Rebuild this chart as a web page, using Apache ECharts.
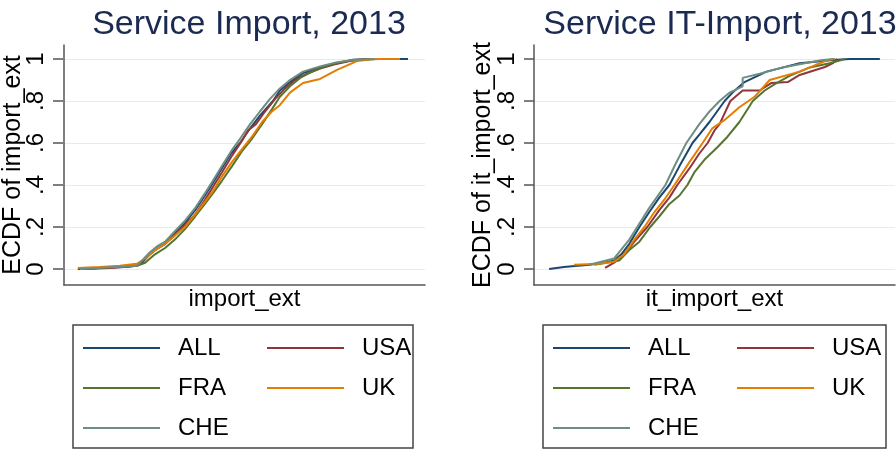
<!DOCTYPE html>
<html>
<head>
<meta charset="utf-8">
<script src="https://cdn.jsdelivr.net/npm/echarts@6/dist/echarts.min.js"></script>
<style>html,body{margin:0;padding:0;background:#fff}#c{width:896px;height:450px}</style>
</head>
<body>
<div id="c"></div>
<script>
const seriesNames = ['ALL', 'USA', 'FRA', 'UK', 'CHE'];
const yTickLabels = ['0', '.2', '.4', '.6', '.8', '1'];
const panelTitles = ['Service Import, 2013', 'Service IT-Import, 2013'];
const xNames = ['import_ext', 'it_import_ext'];
const yNames = ['ECDF of import_ext', 'ECDF of it_import_ext'];

// Service Import (left panel) : [x, ECDF]
const impALL = [[4.1,0],[10.2,0.005],[17.1,0.01],[20.4,0.015],[21.8,0.03],[24.0,0.07],[26.2,0.10],[28.2,0.12],[30.9,0.17],[33.7,0.22],[36.5,0.28],[39.2,0.35],[41.4,0.41],[43.9,0.48],[46.4,0.55],[48.9,0.60],[51.7,0.67],[54.4,0.73],[58.0,0.80],[59.9,0.85],[62.7,0.89],[66.3,0.933],[71.0,0.96],[75.7,0.98],[80.1,0.997],[87.6,1],[95.3,1]];
const impUSA = [[6.1,0],[13.0,0.005],[20.4,0.015],[22.7,0.05],[25.4,0.09],[28.2,0.12],[30.9,0.16],[33.7,0.21],[36.5,0.26],[39.2,0.33],[41.4,0.39],[43.9,0.46],[46.7,0.54],[49.4,0.61],[51.1,0.66],[53.3,0.69],[55.8,0.75],[58.6,0.81],[61.3,0.86],[64.1,0.90],[67.4,0.93],[71.0,0.955],[75.1,0.975],[79.3,0.99],[83.4,1.0]];
const impFRA = [[4.7,0],[20.4,0.015],[22.7,0.03],[25.4,0.07],[28.2,0.10],[30.9,0.14],[33.7,0.19],[36.5,0.25],[39.2,0.31],[41.4,0.36],[43.9,0.42],[46.7,0.49],[49.4,0.56],[52.2,0.62],[55.0,0.69],[57.7,0.76],[59.9,0.82],[62.7,0.87],[65.5,0.91],[68.8,0.94],[72.4,0.965],[76.5,0.985],[80.7,0.995],[84.8,1.0]];
const impUK = [[4.1,0.005],[10.2,0.01],[15.7,0.015],[20.4,0.025],[22.7,0.05],[25.4,0.09],[28.2,0.12],[30.9,0.16],[33.7,0.20],[36.5,0.26],[39.2,0.32],[41.4,0.37],[43.9,0.44],[46.7,0.51],[49.4,0.57],[52.2,0.63],[55.0,0.70],[57.7,0.75],[59.9,0.78],[62.7,0.84],[66.3,0.886],[71.0,0.905],[75.7,0.948],[81.2,0.99],[86.2,1.0],[93.1,1.0]];
const impCHE = [[4.7,0],[20.4,0.015],[21.8,0.04],[24.0,0.08],[26.2,0.11],[28.2,0.13],[30.9,0.18],[33.7,0.23],[36.5,0.29],[39.2,0.36],[41.4,0.42],[43.9,0.49],[46.4,0.56],[48.9,0.62],[51.7,0.69],[54.4,0.75],[57.2,0.81],[59.9,0.86],[62.7,0.90],[66.3,0.94],[71.0,0.965],[75.7,0.985],[80.7,0.997],[86.2,1.0]];

// Service IT-Import (right panel) : [x, ECDF]
const itALL = [[4.2,0],[8.3,0.01],[15.3,0.02],[19.4,0.03],[22.2,0.04],[24.2,0.07],[26.4,0.12],[29.2,0.2],[31.9,0.27],[34.7,0.34],[37.5,0.4],[40.3,0.49],[43.9,0.6],[45.8,0.64],[48.6,0.7],[52.8,0.8],[55.0,0.84],[58.3,0.89],[64.4,0.94],[73.6,0.98],[82.8,0.995],[87.5,1.0],[95.8,1.0]];
const itUSA = [[19.7,0.005],[22.2,0.03],[25.0,0.07],[27.8,0.13],[31.4,0.2],[34.7,0.28],[37.5,0.34],[39.7,0.4],[43.1,0.48],[45.8,0.55],[48.1,0.6],[50.0,0.66],[51.4,0.69],[54.4,0.8],[57.8,0.85],[62.5,0.85],[65.8,0.886],[70.3,0.89],[73.6,0.924],[80.6,0.962],[82.8,0.98],[83.9,1.0]];
const itFRA = [[16.7,0.02],[23.6,0.04],[26.4,0.09],[29.2,0.13],[32.2,0.2],[34.7,0.25],[37.5,0.31],[40.3,0.35],[42.5,0.4],[44.4,0.46],[47.2,0.52],[50.8,0.58],[53.6,0.63],[56.9,0.70],[60.6,0.8],[63.9,0.85],[66.7,0.88],[70.8,0.92],[76.4,0.96],[81.9,0.98],[86.1,1.0]];
const itUK = [[11.1,0.02],[18.1,0.025],[22.2,0.035],[25.0,0.07],[27.8,0.14],[30.6,0.2],[33.3,0.27],[36.1,0.33],[38.9,0.4],[43.1,0.51],[46.7,0.6],[49.4,0.67],[52.8,0.71],[56.9,0.77],[61.1,0.82],[65.3,0.9],[73.6,0.94],[77.8,0.97],[81.4,0.995],[83.3,1.0]];
const itCHE = [[15.3,0.02],[22.2,0.05],[23.6,0.08],[26.4,0.14],[28.6,0.2],[31.9,0.29],[36.4,0.4],[39.2,0.5],[42.2,0.6],[45.8,0.69],[48.6,0.75],[51.4,0.8],[54.2,0.84],[57.8,0.87],[57.8,0.91],[62.5,0.93],[68.9,0.96],[75.0,0.98],[80.0,0.995],[83.3,1.0]];

const panelData = [[impALL, impUSA, impFRA, impUK, impCHE], [itALL, itUSA, itFRA, itUK, itCHE]];
const colors = ['#1a476f', '#90353b', '#55752f', '#e37e00', '#6e8e84'];

const FONT = 'Liberation Sans, Arial, sans-serif';
const axisColor = '#555';
const panels = [
  { left: 63, width: 362, center: 244, legendLeft: 73, legendWidth: 340 },
  { left: 534, width: 361, center: 715, legendLeft: 543, legendWidth: 343 }
];

const grid = [], xAxis = [], yAxis = [], series = [], title = [], legend = [];
panels.forEach((p, i) => {
  const outer = grid.length;
  grid.push({ left: p.left, top: 45, width: p.width, height: 240, show: false });
  const inner = grid.length;
  grid.push({ left: p.left, top: 59, width: p.width, height: 210, show: false });
  const box = grid.length;
  grid.push({ left: p.legendLeft, top: 325, width: p.legendWidth, height: 123, show: true,
    borderColor: '#444', borderWidth: 1.5, backgroundColor: '#fff' });

  xAxis.push({ gridIndex: outer, type: 'value', min: 0, max: 100,
    axisLine: { show: true, lineStyle: { color: axisColor, width: 1.5 } },
    axisTick: { show: false }, axisLabel: { show: false }, splitLine: { show: false },
    name: xNames[i], nameLocation: 'middle', nameGap: 2,
    nameTextStyle: { fontFamily: FONT, fontSize: 24, color: '#000', verticalAlign: 'top' } });
  yAxis.push({ gridIndex: outer, type: 'value', min: 0, max: 1,
    axisLine: { show: true, lineStyle: { color: axisColor, width: 1.5 } },
    axisTick: { show: false }, axisLabel: { show: false }, splitLine: { show: false },
    name: yNames[i], nameLocation: 'middle', nameGap: 38,
    nameTextStyle: { fontFamily: FONT, fontSize: 25, color: '#000' } });

  xAxis.push({ gridIndex: inner, type: 'value', min: 0, max: 100, show: false });
  yAxis.push({ gridIndex: inner, type: 'value', min: 0, max: 1, interval: 0.2,
    axisLine: { show: false },
    axisTick: { show: true, length: 10, lineStyle: { color: axisColor, width: 1.5 } },
    axisLabel: { show: true, rotate: 90, margin: 15, fontFamily: FONT, fontSize: 24, color: '#000',
      formatter: v => yTickLabels[Math.round(v / 0.2)] },
    splitLine: { show: true, lineStyle: { color: '#e3ecf0', width: 1.2 } } });

  xAxis.push({ gridIndex: box, type: 'value', show: false });
  yAxis.push({ gridIndex: box, type: 'value', show: false });

  panelData[i].forEach((d, k) => {
    series.push({ type: 'line', name: seriesNames[k], xAxisIndex: inner, yAxisIndex: inner,
      data: d, symbol: 'none', showSymbol: false, smooth: false, animation: false,
      lineStyle: { width: 2, color: colors[k] }, itemStyle: { color: colors[k] }, z: 2 + k });
  });

  title.push({ text: panelTitles[i], left: p.center, top: 3, textAlign: 'center',
    textStyle: { fontFamily: FONT, fontSize: 34, fontWeight: 'normal', color: '#1b2a52' } });

  const legendCommon = { orient: 'vertical', top: 336, padding: 0, itemGap: 16, itemWidth: 77, itemHeight: 2,
    icon: 'rect', selectedMode: false, z: 10,
    textStyle: { fontFamily: FONT, fontSize: 24, color: '#000', lineHeight: 24, padding: [0, 0, 0, 13] } };
  legend.push(Object.assign({}, legendCommon, { left: p.legendLeft + 10, data: [seriesNames[0], seriesNames[2], seriesNames[4]] }));
  legend.push(Object.assign({}, legendCommon, { left: p.legendLeft + 194, data: [seriesNames[1], seriesNames[3]] }));
});

const chart = echarts.init(document.getElementById('c'), null, { renderer: 'canvas' });
chart.setOption({ animation: false, backgroundColor: '#fff', title, legend, grid, xAxis, yAxis, series });
</script>
</body>
</html>
